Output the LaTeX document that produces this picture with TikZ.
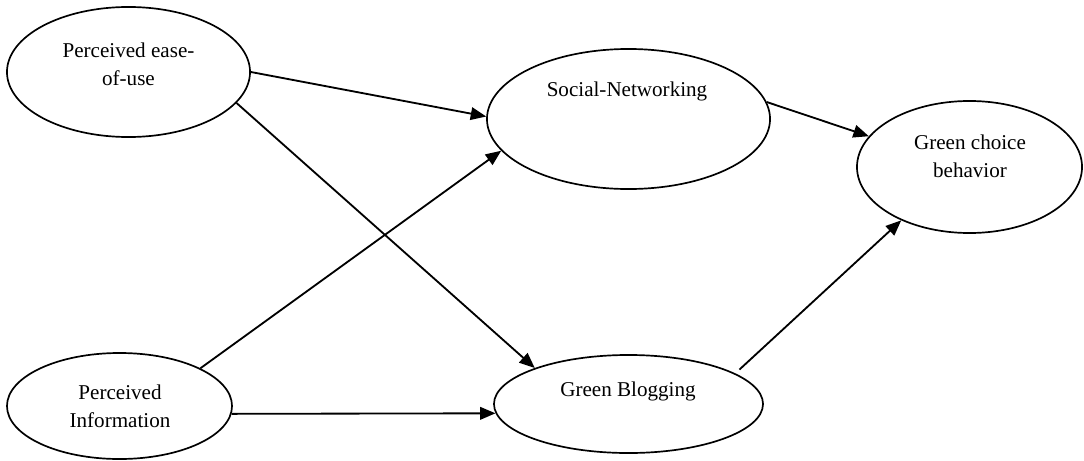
\documentclass[tikz,border=0pt]{standalone}
\usepackage{fontspec}
\setmainfont{Liberation Serif}
\usetikzlibrary{shapes.geometric,arrows.meta}

\tikzset{
  oval/.style={draw, ellipse, line width=1.2pt, inner sep=0pt},
  txt/.style={align=center, font=\fontsize{15}{19.8}\selectfont},
  link/.style={->, line width=1.3pt}
}

\begin{document}
\begin{tikzpicture}[x=0.025cm, y=-0.025cm, >={Triangle[length=11pt,width=9pt]}]
      \useasboundingbox (0,0) rectangle (1084,460);

      \node (peou) [oval, minimum width=6.075cm, minimum height=3.25cm] at (128.5,72) {};
      \node (sn)   [oval, minimum width=7.075cm, minimum height=3.5cm]  at (628.5,119) {};
      \node (gcb)  [oval, minimum width=5.625cm, minimum height=3.3cm]  at (969.5,167) {};
      \node (pi)   [oval, minimum width=5.625cm, minimum height=2.65cm] at (119.5,406) {};
      \node (gb)   [oval, minimum width=6.725cm, minimum height=2.45cm] at (628.5,404) {};

      \node (peou-t) [txt] at (128.5,64) {Perceived ease-\\of-use};
      \node (sn-t)   [txt] at (627,91) {Social-Networking};
      \node (gcb-t)  [txt] at (970,156) {Green choice\\behavior};
      \node (pi-t)   [txt] at (120,406) {Perceived\\Information};
      \node (gb-t)   [txt] at (628,391) {Green Blogging};

      \path 
        (peou.-0.5) edge[link] (sn.179)
        (peou.-16.2) edge[link] (gb.159.9)
        (pi.25.3) edge[link] (sn.-166.2)
        (pi.-4.6) edge[link] (gb.184.7)
        (sn.7.1) edge[link] (gcb.163.5)
        (gb.16.6) edge[link, shorten <=4pt] (gcb.218.4);
    \end{tikzpicture}
\end{document}
